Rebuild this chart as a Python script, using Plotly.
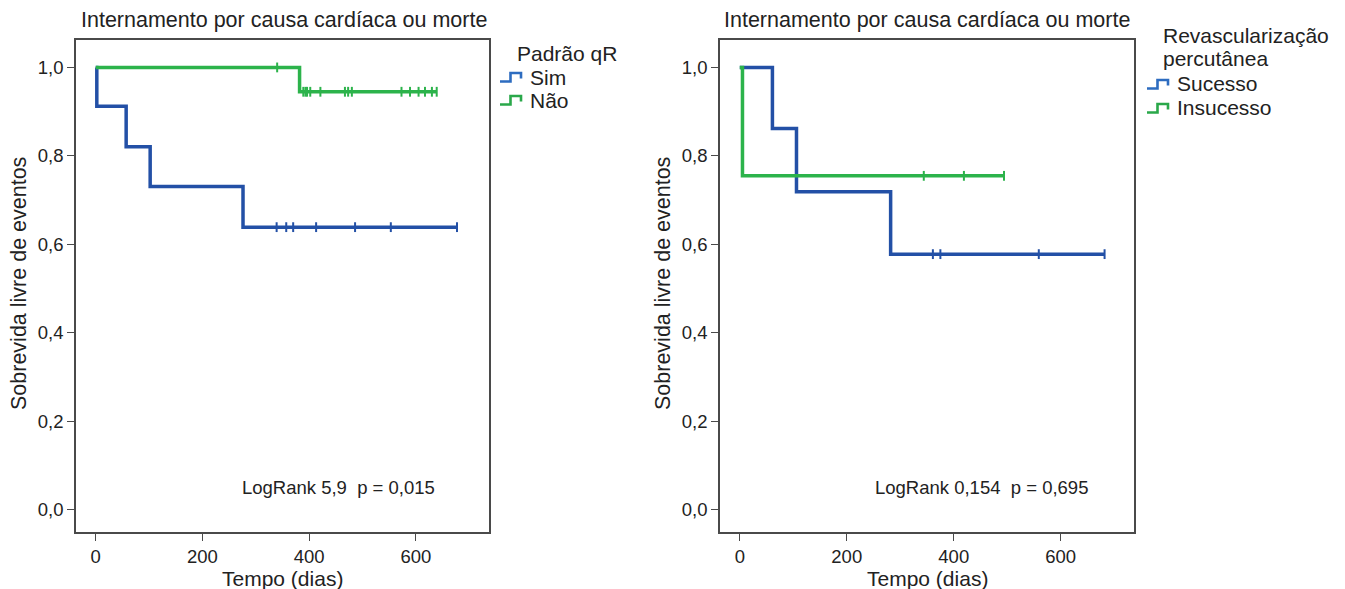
import plotly.graph_objects as go

# ---- Kaplan-Meier curves: step times (days) and survival after each step ----
qr_sim_times = [0, 2, 57, 102, 276, 677]
qr_sim_surv = [1.0, 0.912, 0.821, 0.731, 0.639, 0.639]
qr_sim_censored = [339, 357, 370, 413, 486, 553, 677]

qr_nao_times = [0, 382, 639]
qr_nao_surv = [1.0, 0.945, 0.945]
qr_nao_censored = [340, 389, 393, 396, 402, 421, 467, 473, 480, 573, 589, 605, 617, 630, 639]

rev_suc_times = [0, 61, 106, 282, 682]
rev_suc_surv = [1.0, 0.862, 0.719, 0.578, 0.578]
rev_suc_censored = [361, 375, 559, 682]

rev_ins_times = [0, 5, 494]
rev_ins_surv = [1.0, 0.755, 0.755]
rev_ins_censored = [344, 419, 494]

x_ticks = [0, 200, 400, 600]
y_ticks = [0.0, 0.2, 0.4, 0.6, 0.8, 1.0]

title_text = "Internamento por causa cardíaca ou morte"
x_title = "Tempo (dias)"
y_title = "Sobrevida livre de eventos"
logrank_left = "LogRank 5,9  p = 0,015"
logrank_right = "LogRank 0,154  p = 0,695"

BLUE = "#2350a6"
GREEN = "#2cb34b"
BLUE_ICON = "#2d6cc0"
GREEN_ICON = "#2aa84a"
FRAME = "#4a4a4a"
TEXT = "#222222"
FONT = "Liberation Sans, Arial, Helvetica, sans-serif"

W, H = 1345, 589


def px(x):
    return x / W


def py(y):
    return 1 - y / H


def surv_at(times, surv, t):
    val = surv[0]
    for ti, si in zip(times, surv):
        if ti <= t:
            val = si
    return val


fig = go.Figure()


def add_curve(times, surv, censored, color, xa, ya):
    fig.add_trace(go.Scatter(
        x=times, y=surv, mode="lines", line=dict(color=color, width=3.5, shape="hv"),
        xaxis=xa, yaxis=ya, showlegend=False, hoverinfo="skip"))
    fig.add_trace(go.Scatter(
        x=censored, y=[surv_at(times, surv, t) for t in censored], mode="markers",
        marker=dict(symbol="line-ns-open", size=7, color=color, line=dict(color=color, width=2)),
        xaxis=xa, yaxis=ya, showlegend=False, hoverinfo="skip"))


add_curve(qr_sim_times, qr_sim_surv, qr_sim_censored, BLUE, "x", "y")
add_curve(qr_nao_times, qr_nao_surv, qr_nao_censored, GREEN, "x", "y")
add_curve(rev_suc_times, rev_suc_surv, rev_suc_censored, BLUE, "x2", "y2")
add_curve(rev_ins_times, rev_ins_surv, rev_ins_censored, GREEN, "x2", "y2")

axis_common = dict(
    showline=True, mirror=True, linecolor=FRAME, linewidth=1.5,
    ticks="outside", ticklen=7, tickwidth=1.2, tickcolor=FRAME,
    showgrid=False, zeroline=False,
    tickfont=dict(family=FONT, size=18.5, color=TEXT),
)

x_range = [-37, 737]
y_range = [-0.05, 1.062]
y_dom = [py(532), py(40)]

fig.update_layout(
    width=W, height=H,
    margin=dict(l=0, r=0, t=0, b=0),
    paper_bgcolor="white", plot_bgcolor="white",
    separators=",.",
    xaxis=dict(domain=[px(76), px(489)], range=x_range, tickvals=x_ticks, anchor="y", **axis_common),
    yaxis=dict(domain=y_dom, range=y_range, tickvals=y_ticks, tickformat=".1f", anchor="x", **axis_common),
    xaxis2=dict(domain=[px(720), px(1134)], range=x_range, tickvals=x_ticks, anchor="y2", **axis_common),
    yaxis2=dict(domain=y_dom, range=y_range, tickvals=y_ticks, tickformat=".1f", anchor="x2", **axis_common),
)

annotations = []


def text(s, x, y, size=18.5, xanchor="left", angle=0):
    annotations.append(dict(
        text=s, x=px(x), y=py(y), xref="paper", yref="paper", showarrow=False,
        xanchor=xanchor, yanchor="middle", textangle=angle,
        font=dict(family=FONT, size=size, color=TEXT)))


# panel titles
text(title_text, 79, 20, size=21.5)
text(title_text, 722, 20, size=21.5)
# axis titles
text(x_title, 282.5, 578, size=21, xanchor="center")
text(x_title, 927, 578, size=21, xanchor="center")
text(y_title, 19, 284, size=21.5, xanchor="center", angle=-90)
text(y_title, 663, 284, size=21.5, xanchor="center", angle=-90)
# log-rank statistics
text(logrank_left, 338.5, 487, xanchor="center")
text(logrank_right, 982, 487, xanchor="center")

# legends
text("Padrão qR", 515, 54, size=21)
text("Sim", 528, 77, size=21)
text("Não", 528, 100, size=21)
text("Revascularização", 1161, 35, size=21)
text("percutânea", 1161, 59, size=21)
text("Sucesso", 1175, 83, size=21)
text("Insucesso", 1175, 107, size=21)

shapes = []


def step_icon(x0, yc, color):
    # small step glyph used as the legend key
    pts = [(x0, yc + 4.5), (x0 + 10.5, yc + 4.5), (x0 + 10.5, yc - 4), (x0 + 21, yc - 4), (x0 + 21, yc + 1.5)]
    path = "M " + " L ".join(f"{px(a):.5f},{py(b):.5f}" for a, b in pts)
    shapes.append(dict(type="path", path=path, xref="paper", yref="paper",
                       line=dict(color=color, width=2.6)))


step_icon(500, 77, BLUE_ICON)
step_icon(500, 100, GREEN_ICON)
step_icon(1147, 84, BLUE_ICON)
step_icon(1147, 108, GREEN_ICON)

fig.update_layout(annotations=annotations, shapes=shapes)

fig.write_html("out.html")
